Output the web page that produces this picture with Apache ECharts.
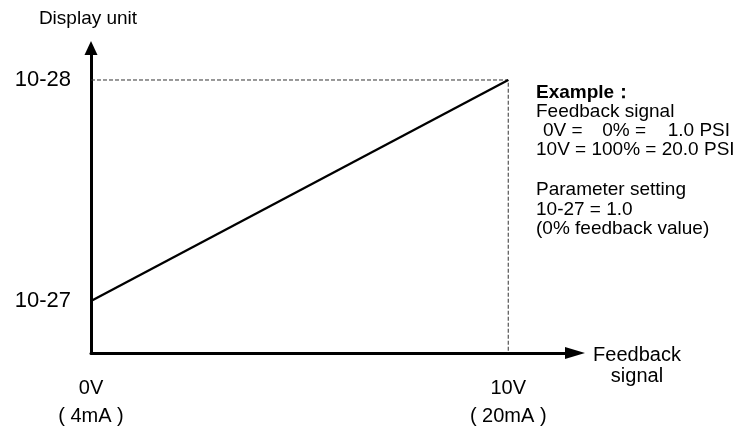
<!DOCTYPE html>
<html>
<head>
<meta charset="utf-8">
<script src="https://cdn.jsdelivr.net/npm/echarts@6/dist/echarts.min.js"></script>
<style>
html,body{margin:0;padding:0;background:#fff;}
#chart{width:742px;height:434px;}
</style>
</head>
<body>
<div id="chart"></div>
<script>
// Data
const xValues = [0, 10];            // feedback signal (V)
const yValues = [1.0, 20.0];        // display value (PSI)
const xTickValues = [0, 10];
const xTickLabels = ['0V', '10V'];
const xTickSubLabels = ['( 4mA )', '( 20mA )'];
const yTickValues = [1.0, 20.0];
const yTickLabels = ['10-27', '10-28'];
const yAxisTitle = 'Display unit';
const xAxisTitle = ['Feedback', 'signal'];
const exampleTitle = 'Example：';
const exampleLines = ['Feedback signal'];
const exampleRow1 = ['0V =', '0% =', '1.0 PSI'];
const exampleRow2 = '10V = 100% = 20.0 PSI';
const paramLines = ['Parameter setting', '10-27 = 1.0', '(0% feedback value)'];

const X_MIN = 0, X_MAX = 11.6;
const Y_MIN = -3.47, Y_MAX = 22.75;
const FONT = '"Liberation Sans", Arial, Helvetica, sans-serif';

const chart = echarts.init(document.getElementById('chart'), null, {renderer: 'canvas'});

function fmtX(v) {
  const i = xTickValues.indexOf(v);
  return i >= 0 ? xTickLabels[i] + '\n' + xTickSubLabels[i] : '';
}
function fmtY(v) {
  const i = yTickValues.indexOf(v);
  return i >= 0 ? yTickLabels[i] : '';
}

const txt = (x, y, s, extra) => Object.assign({
  type: 'text', x: x, y: y, silent: true,
  style: Object.assign({text: s, fill: '#000', font: '19px ' + FONT, textAlign: 'left', textVerticalAlign: 'middle'}, extra || {})
});

const option = {
  backgroundColor: '#fff',
  animation: false,
  grid: {left: 91, top: 48, width: 484, height: 305, containLabel: false, outerBoundsMode: 'none'},
  xAxis: {
    type: 'value', min: X_MIN, max: X_MAX,
    axisLine: {show: true, onZero: false, symbol: ['none', 'triangle'], symbolSize: [12, 20], symbolOffset: [0, 0],
      lineStyle: {color: '#000', width: 3}},
    axisTick: {show: false},
    splitLine: {show: false},
    axisLabel: {
      customValues: xTickValues, formatter: fmtX, margin: 21,
      color: '#000', fontSize: 20, lineHeight: 28, fontFamily: FONT, align: 'center'
    }
  },
  yAxis: {
    type: 'value', min: Y_MIN, max: Y_MAX,
    axisLine: {show: true, onZero: false, symbol: ['none', 'triangle'], symbolSize: [13, 14], symbolOffset: [0, 0],
      lineStyle: {color: '#000', width: 3}},
    axisTick: {show: false},
    splitLine: {show: false},
    axisLabel: {
      customValues: yTickValues, formatter: fmtY, margin: 20,
      color: '#000', fontSize: 22, fontFamily: FONT
    }
  },
  series: [
    {
      type: 'line', symbol: 'none', silent: true, z: 1,
      lineStyle: {color: '#333', width: 1, type: [4, 2]},
      data: [[xValues[0], yValues[1]], [xValues[1], yValues[1]], [xValues[1], Y_MIN]]
    },
    {
      type: 'line', symbol: 'none', silent: true, z: 3,
      lineStyle: {color: '#000', width: 2.3},
      data: xValues.map((x, i) => [x, yValues[i]])
    }
  ],
  graphic: [
    txt(88, 19, yAxisTitle, {textAlign: 'center'}),
    txt(637, 355, xAxisTitle[0], {textAlign: 'center', font: '20px ' + FONT}),
    txt(637, 376, xAxisTitle[1], {textAlign: 'center', font: '20px ' + FONT}),
    txt(536, 93, exampleTitle, {font: 'bold 19px ' + FONT}),
    txt(536, 112, exampleLines[0]),
    txt(543, 131, exampleRow1[0]),
    txt(646, 131, exampleRow1[1], {textAlign: 'right'}),
    txt(730, 131, exampleRow1[2], {textAlign: 'right'}),
    txt(536, 150, exampleRow2),
    txt(536, 190, paramLines[0]),
    txt(536, 209.5, paramLines[1]),
    txt(536, 229, paramLines[2])
  ]
};
chart.setOption(option);
</script>
</body>
</html>
